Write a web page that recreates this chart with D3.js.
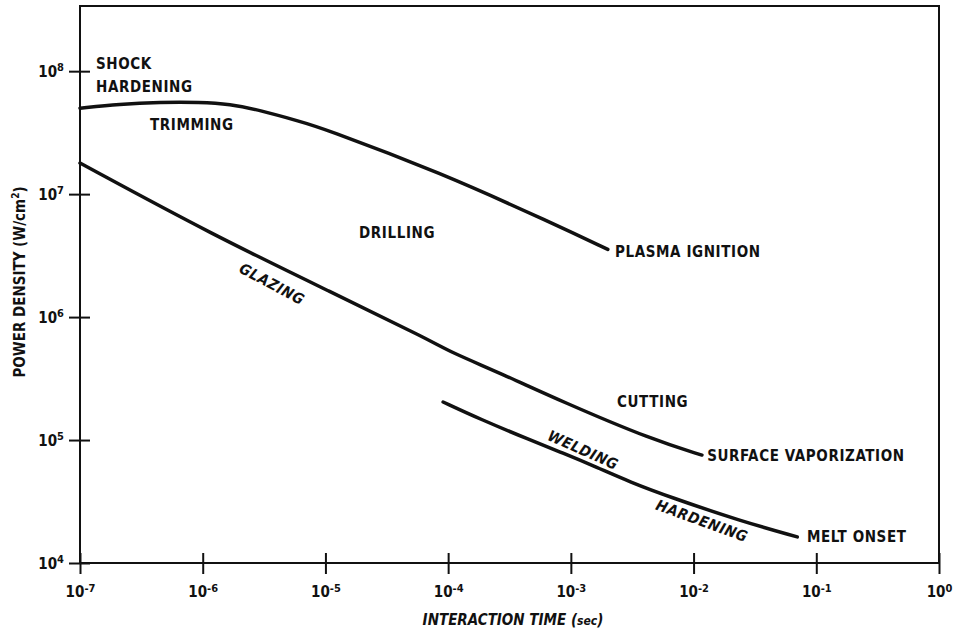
<!DOCTYPE html>
<html>
<head>
<meta charset="utf-8">
<script src="https://cdn.jsdelivr.net/npm/d3@7"></script>
<style>
  body { margin: 0; background: #fff; }
  svg text { font-family: "DejaVu Sans Condensed", "DejaVu Sans", sans-serif; font-weight: bold; fill: #111; }
</style>
</head>
<body>
<div id="chart"></div>
<script>
// interaction time (s) vs power density (W/cm2)
var upperTime  = [1e-7, 2.1e-7, 4.5e-7, 9.5e-7, 1.66e-6, 2.95e-6, 6.2e-6, 9.1e-6, 8.6e-5, 7.2e-4, 2.0e-3];
var upperPower = [5.0e7, 5.4e7, 5.6e7, 5.6e7, 5.4e7, 4.8e7, 3.9e7, 3.5e7, 1.5e7, 5.75e6, 3.55e6];

var middleTime  = [1e-7, 1.21e-6, 1.15e-5, 7.1e-5, 1.04e-4, 2.65e-4, 8.6e-4, 4.68e-3, 1.17e-2];
var middlePower = [1.79e7, 4.66e6, 1.57e6, 6.5e5, 5.2e5, 3.51e5, 2.04e5, 1.0e5, 7.55e4];

var lowerTime  = [9.1e-5, 1.82e-4, 4.65e-4, 8.6e-4, 1.63e-3, 3.03e-3, 6.4e-3, 2.4e-2, 7.0e-2];
var lowerPower = [2.04e5, 1.48e5, 1.0e5, 7.85e4, 6.0e4, 4.56e4, 3.44e4, 2.2e4, 1.63e4];

var xTickExp = [-7, -6, -5, -4, -3, -2, -1, 0];
var yTickExp = [4, 5, 6, 7, 8];

// region labels: text, time, power
var labelText  = ["SHOCK", "HARDENING", "TRIMMING", "DRILLING", "PLASMA IGNITION", "CUTTING", "SURFACE VAPORIZATION", "MELT ONSET"];
var labelTime  = [1.35e-7, 1.35e-7, 3.72e-7, 1.88e-5, 2.29e-3, 2.38e-3, 1.29e-2, 8.4e-2];
var labelPower = [1.04e8, 6.76e7, 3.32e7, 4.4e6, 3.08e6, 1.86e5, 6.76e4, 1.48e4];

var slantText  = ["GLAZING", "WELDING", "HARDENING"];
var slantTime  = [3.67e-6, 1.26e-3, 1.17e-2];
var slantPower = [1.86e6, 8.3e4, 2.2e4];
var slantAngle = [28, 24, 20];

var W = 956, H = 634;
var mLeft = 80, mRight = 939, mTop = 6, mBottom = 563;

var svg = d3.select("#chart").append("svg")
  .attr("width", W)
  .attr("height", H);

var x = d3.scaleLog().domain([1e-7, 1]).range([mLeft, mRight]);
var y = d3.scaleLog().domain([1e4, Math.pow(10, 8.53)]).range([mBottom, mTop]);

// frame
svg.append("rect")
  .attr("x", mLeft).attr("y", mTop)
  .attr("width", mRight - mLeft).attr("height", mBottom - mTop)
  .attr("fill", "none").attr("stroke", "#111").attr("stroke-width", 2);

var xAxis = svg.append("g")
  .attr("transform", "translate(0," + mBottom + ")")
  .call(d3.axisBottom(x).tickValues(xTickExp.map(function (e) { return Math.pow(10, e); }))
    .tickSize(11).tickSizeOuter(0).tickFormat(""));
xAxis.select(".domain").remove();
xAxis.selectAll(".tick line").attr("y1", -10).attr("stroke", "#111").attr("stroke-width", 2);
xAxis.selectAll(".tick").each(function (d, i) {
  var t = d3.select(this).append("text")
    .attr("y", 34).attr("text-anchor", "middle")
    .style("font-size", "15px").style("fill", "#111");
  t.append("tspan").text("10");
  t.append("tspan").attr("dy", -5).style("font-size", "11px").text(xTickExp[i] === 0 ? "0" : "-" + (-xTickExp[i]));
});

var yAxis = svg.append("g")
  .attr("transform", "translate(" + mLeft + ",0)")
  .call(d3.axisLeft(y).tickValues(yTickExp.map(function (e) { return Math.pow(10, e); }))
    .tickSize(11).tickSizeOuter(0).tickFormat(""));
yAxis.select(".domain").remove();
yAxis.selectAll(".tick line").attr("x1", 10).attr("stroke", "#111").attr("stroke-width", 2);
yAxis.selectAll(".tick").each(function (d, i) {
  var t = d3.select(this).append("text")
    .attr("x", -16).attr("y", 5).attr("text-anchor", "end")
    .style("font-size", "15px").style("fill", "#111");
  t.append("tspan").text("10");
  t.append("tspan").attr("dy", -6).style("font-size", "11px").text(yTickExp[i]);
});

// curves
var line = d3.line()
  .x(function (d) { return x(d[0]); })
  .y(function (d) { return y(d[1]); })
  .curve(d3.curveBasis);

[[upperTime, upperPower], [middleTime, middlePower], [lowerTime, lowerPower]].forEach(function (s) {
  svg.append("path")
    .datum(d3.zip(s[0], s[1]))
    .attr("d", line)
    .attr("fill", "none")
    .attr("stroke", "#111")
    .attr("stroke-width", 3.5)
    .attr("stroke-linecap", "round");
});

// labels
labelText.forEach(function (s, i) {
  svg.append("text")
    .attr("x", x(labelTime[i])).attr("y", y(labelPower[i]))
    .style("font-size", "15px").style("letter-spacing", "0.6px")
    .text(s);
});

slantText.forEach(function (s, i) {
  svg.append("text")
    .attr("transform", "translate(" + x(slantTime[i]) + "," + y(slantPower[i]) + ") rotate(" + slantAngle[i] + ")")
    .attr("text-anchor", "middle").attr("dy", "0.35em")
    .style("font-size", "15px").style("letter-spacing", "0.6px").style("font-style", "italic")
    .text(s);
});

// axis titles
var xt = svg.append("text")
  .attr("x", 513).attr("y", 625).attr("text-anchor", "middle")
  .style("font-size", "15px").style("font-style", "italic");
xt.append("tspan").text("INTERACTION TIME (");
xt.append("tspan").style("font-size", "12px").text("sec");
xt.append("tspan").text(")");

var yt = svg.append("text")
  .attr("transform", "translate(25,282) rotate(-90)")
  .attr("text-anchor", "middle")
  .style("font-size", "15px");
yt.append("tspan").text("POWER DENSITY (W/cm");
yt.append("tspan").attr("dy", -6).style("font-size", "10px").text("2");
yt.append("tspan").attr("dy", 6).text(")");
</script>
</body>
</html>
